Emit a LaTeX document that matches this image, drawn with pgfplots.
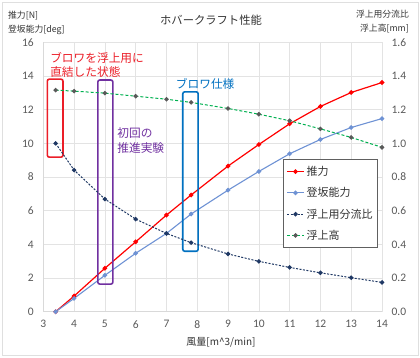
\documentclass[border=0pt]{standalone}
\usepackage{fontspec}
\setmainfont{Noto Sans CJK JP}
\newfontfamily\numfont{Carlito}
\usepackage{pgfplots}
\usepackage{pgfplotstable}
\pgfplotsset{compat=1.18}
\definecolor{tick}{RGB}{89,89,89}
\definecolor{cRed}{RGB}{255,0,0}
\definecolor{cBlue}{RGB}{110,146,212}
\definecolor{cNavy}{RGB}{31,56,100}
\definecolor{cGreen}{RGB}{0,176,80}
\definecolor{cGrayM}{RGB}{89,89,89}
\definecolor{aRed}{RGB}{235,30,40}
\definecolor{aPurple}{RGB}{112,48,160}
\definecolor{aBlue}{RGB}{0,112,192}

\pgfplotstableread{
x    thrust climb
3.4  0      0
4    0.93   0.79
5    2.58   2.16
6    4.15   3.47
7    5.74   4.65
7.8  6.93   5.80
9    8.65   7.22
10   9.93   8.33
11   11.16  9.38
12   12.19  10.23
13   13.02  10.94
14   13.61  11.47
}\lefttab

\pgfplotstableread{
x    ratio  height
3.4  1.000  1.316
4    0.841  1.310
5    0.669  1.298
6    0.550  1.280
7    0.465  1.262
7.8  0.410  1.243
9    0.343  1.207
10   0.299  1.173
11   0.263  1.134
12   0.231  1.086
13   0.202  1.035
14   0.174  0.976
}\righttab

\begin{document}
\begin{tikzpicture}
\path[use as bounding box] (0,0) rectangle (420pt,357pt);
\draw[gray!25] (2.5pt,2pt) rectangle (418pt,355pt);

\begin{axis}[
  at={(43.3pt,45.3pt)}, anchor=south west,
  scale only axis, width=338.7pt, height=269.4pt,
  xmin=3, xmax=14, ymin=0, ymax=16,
  xtick={3,...,14}, ytick={0,2,...,16},
  grid=major, grid style={gray!22, line width=0.6pt},
  axis x line*=bottom, axis y line*=left,
  axis line style={gray!30, line width=0.6pt, -},
  tick style={draw=none},
  ticklabel style={font=\numfont\fontsize{11.5}{12}\selectfont, text=tick},
  /pgf/number format/assume math mode=true,
  xticklabel style={yshift=-5pt},
  yticklabel style={xshift=-6pt},
  clip=false,
]
\addplot[cRed, line width=1.2pt, mark=*, mark size=1.7pt, mark options={fill=cRed, draw=cRed}] table[x=x, y=thrust] {\lefttab};
\addplot[cBlue, line width=1.1pt, mark=*, mark size=1.7pt, mark options={fill=cBlue, draw=cBlue}] table[x=x, y=climb] {\lefttab};

\draw[aRed, line width=1.6pt, rounded corners=2pt] (axis cs:3.13,13.81) rectangle (axis cs:3.64,9.18);
\draw[aPurple, line width=1.6pt, rounded corners=2pt] (axis cs:4.77,13.76) rectangle (axis cs:5.26,1.64);
\draw[aBlue, line width=1.6pt, rounded corners=2pt] (axis cs:7.53,13.06) rectangle (axis cs:8.03,3.59);

\node[anchor=west, text=aRed, align=left, font=\fontsize{11.7}{14}\selectfont, inner sep=0pt] at (axis cs:3.22,14.63) {ブロワを浮上用に\\直結した状態};
\node[anchor=west, text=aPurple, align=left, font=\fontsize{11.7}{15}\selectfont, inner sep=0pt] at (axis cs:5.40,10.15) {初回の\\推進実験};
\node[anchor=west, text=aBlue, font=\fontsize{11.7}{14}\selectfont, inner sep=0pt] at (axis cs:7.30,13.51) {ブロワ仕様};
\end{axis}

\begin{axis}[
  at={(43.3pt,45.3pt)}, anchor=south west,
  scale only axis, width=338.7pt, height=269.4pt,
  xmin=3, xmax=14, ymin=0, ymax=1.6,
  ytick={0,0.2,...,1.6},
  hide x axis,
  axis y line*=right,
  axis line style={draw=none},
  tick style={draw=none},
  ticklabel style={font=\numfont\fontsize{11.5}{12}\selectfont, text=tick},
  /pgf/number format/assume math mode=true,
  yticklabel style={xshift=6pt, /pgf/number format/fixed, /pgf/number format/fixed zerofill, /pgf/number format/precision=1},
  legend style={at={(0.708,0.567)}, anchor=north west, draw=gray!75!black, line width=0.6pt,
    font=\fontsize{11}{12}\selectfont, text=black!80, row sep=6.5pt, inner xsep=3pt, inner ysep=5pt},
  legend cell align=left,
]
\addlegendimage{cRed, line width=1.2pt, mark=*, mark size=1.7pt, mark options={fill=cRed, draw=cRed}}
\addlegendentry{推力}
\addlegendimage{cBlue, line width=1.1pt, mark=*, mark size=1.7pt, mark options={fill=cBlue, draw=cBlue}}
\addlegendentry{登坂能力}
\addplot[cNavy, line width=1pt, dash pattern=on 2pt off 1.5pt, mark=*, mark size=1.7pt, mark options={solid, fill=cNavy, draw=cNavy}] table[x=x, y=ratio] {\righttab};
\addlegendentry{浮上用分流比}
\addplot[cGreen, line width=1pt, dash pattern=on 3pt off 2pt, mark=*, mark size=1.7pt, mark options={solid, fill=cGrayM, draw=cGrayM}] table[x=x, y=height] {\righttab};
\addlegendentry{浮上高}
\end{axis}

\node[font=\fontsize{11.3}{12}\selectfont, text=black!80] at (211pt,337pt) {ホバークラフト性能};
\node[anchor=west, font=\fontsize{8.8}{10}\selectfont, text=black!80, inner sep=0pt] at (8pt,341.5pt) {推力[N]};
\node[anchor=west, font=\fontsize{8.8}{10}\selectfont, text=black!80, inner sep=0pt] at (8pt,327pt) {登坂能力[deg]};
\node[anchor=east, font=\fontsize{8.8}{10}\selectfont, text=black!80, inner sep=0pt] at (409pt,343pt) {浮上用分流比};
\node[anchor=east, font=\fontsize{8.8}{10}\selectfont, text=black!80, inner sep=0pt] at (409pt,328pt) {浮上高[mm]};
\node[font=\fontsize{10}{12}\selectfont, text=black!80] at (221pt,14.5pt) {風量[m\textasciicircum 3/min]};
\end{tikzpicture}
\end{document}
